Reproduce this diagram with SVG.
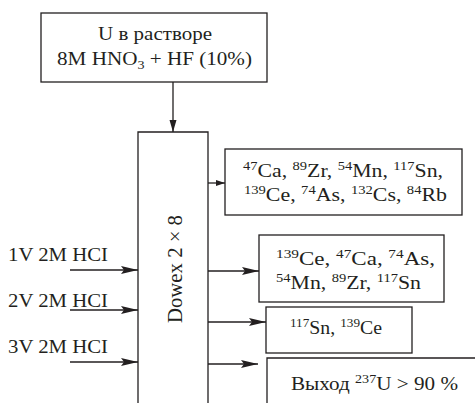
<svg xmlns="http://www.w3.org/2000/svg" width="475" height="403" viewBox="0 0 475 403" font-family="Liberation Serif, serif">
<style>
text{font-family:'Liberation Serif',serif;font-size:19.5px;fill:#231f20}
.s{font-size:13px}
.box{fill:#fff;stroke:#231f20;stroke-width:1.3}
.ln{fill:none;stroke:#231f20;stroke-width:1.3}
</style>
<defs>
<marker id="big" markerUnits="userSpaceOnUse" markerWidth="18" markerHeight="10" refX="17" refY="4" orient="auto"><path d="M0,0 L17,4 L0,8 L3,4 z" fill="#231f20"/></marker>
<marker id="mid" markerUnits="userSpaceOnUse" markerWidth="13" markerHeight="8" refX="12" refY="3.5" orient="auto"><path d="M0,0 L12,3.5 L0,7 z" fill="#231f20"/></marker>
<marker id="sm" markerUnits="userSpaceOnUse" markerWidth="10" markerHeight="7" refX="9" refY="3" orient="auto"><path d="M0,0 L9,3 L0,6 z" fill="#231f20"/></marker>
</defs>
<g id="source">
<rect class="box" x="41" y="13" width="226" height="69"/>
<text x="98" y="40" textLength="114" lengthAdjust="spacingAndGlyphs">U в растворе</text>
<text x="57" y="65" textLength="195" lengthAdjust="spacingAndGlyphs">8M HNO<tspan class="s" dy="4">3</tspan><tspan dy="-4"> + HF (10%)</tspan></text>
</g>
<g id="column">
<path class="ln" d="M138,403 V132 H208 V403"/>
<text transform="translate(182,323) rotate(-90)" x="0" y="0" textLength="108" lengthAdjust="spacingAndGlyphs" style="font-size:20px">Dowex 2 × 8</text>
</g>
<g id="labels">
<text x="8" y="261" textLength="100" lengthAdjust="spacingAndGlyphs">1V 2M HCI</text>
<text x="8" y="307" textLength="100" lengthAdjust="spacingAndGlyphs">2V 2M HCI</text>
<text x="8" y="353" textLength="100" lengthAdjust="spacingAndGlyphs">3V 2M HCI</text>
</g>
<g id="fraction1">
<rect class="box" x="225" y="149" width="237" height="66"/>
<text x="243" y="177" textLength="200" lengthAdjust="spacingAndGlyphs"><tspan class="s" dy="-7">47</tspan><tspan dy="7">Ca, </tspan><tspan class="s" dy="-7">89</tspan><tspan dy="7">Zr, </tspan><tspan class="s" dy="-7">54</tspan><tspan dy="7">Mn, </tspan><tspan class="s" dy="-7">117</tspan><tspan dy="7">Sn,</tspan></text>
<text x="244" y="201" textLength="203" lengthAdjust="spacingAndGlyphs"><tspan class="s" dy="-7">139</tspan><tspan dy="7">Ce, </tspan><tspan class="s" dy="-7">74</tspan><tspan dy="7">As, </tspan><tspan class="s" dy="-7">132</tspan><tspan dy="7">Cs, </tspan><tspan class="s" dy="-7">84</tspan><tspan dy="7">Rb</tspan></text>
</g>
<g id="fraction2">
<rect class="box" x="259" y="235" width="185" height="67"/>
<text x="276" y="265" textLength="159" lengthAdjust="spacingAndGlyphs"><tspan class="s" dy="-7">139</tspan><tspan dy="7">Ce, </tspan><tspan class="s" dy="-7">47</tspan><tspan dy="7">Ca, </tspan><tspan class="s" dy="-7">74</tspan><tspan dy="7">As,</tspan></text>
<text x="276" y="289" textLength="145" lengthAdjust="spacingAndGlyphs"><tspan class="s" dy="-7">54</tspan><tspan dy="7">Mn, </tspan><tspan class="s" dy="-7">89</tspan><tspan dy="7">Zr, </tspan><tspan class="s" dy="-7">117</tspan><tspan dy="7">Sn</tspan></text>
</g>
<g id="fraction3">
<rect class="box" x="266" y="307" width="146" height="46"/>
<text x="290" y="334" textLength="92" lengthAdjust="spacingAndGlyphs"><tspan class="s" dy="-7">117</tspan><tspan dy="7">Sn, </tspan><tspan class="s" dy="-7">139</tspan><tspan dy="7">Ce</tspan></text>
</g>
<g id="fraction4">
<path class="box" d="M476,358 H267 V404"/>
<text x="291" y="390" textLength="167" lengthAdjust="spacingAndGlyphs">Выход <tspan class="s" dy="-7">237</tspan><tspan dy="7">U &gt; 90 %</tspan></text>
</g>
<g id="connectors">
<line class="ln" x1="173" y1="82" x2="173" y2="132" marker-end="url(#mid)"/>
<line class="ln" x1="208" y1="183" x2="225" y2="183" marker-end="url(#sm)"/>
<line class="ln" x1="70" y1="270" x2="138" y2="270" marker-end="url(#big)"/>
<line class="ln" x1="70" y1="310" x2="138" y2="310" marker-end="url(#big)"/>
<line class="ln" x1="70" y1="362" x2="138" y2="362" marker-end="url(#big)"/>
<line class="ln" x1="208" y1="271" x2="259" y2="271" marker-end="url(#big)"/>
<line class="ln" x1="208" y1="322" x2="266" y2="322" marker-end="url(#big)"/>
<line class="ln" x1="208" y1="364" x2="258" y2="364" marker-end="url(#big)"/>
</g>
</svg>
